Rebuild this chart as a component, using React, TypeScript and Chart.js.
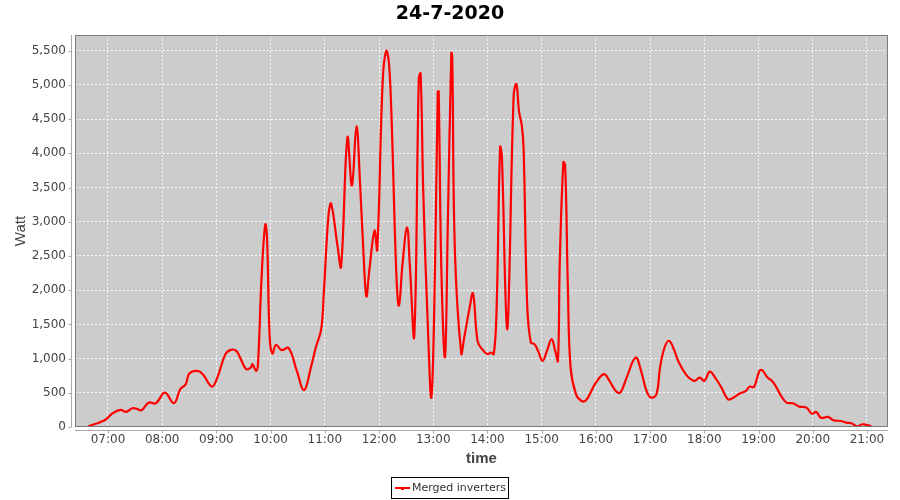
import { useEffect, useRef } from "react";
import { Chart, registerables } from "chart.js";

Chart.register(...registerables);

const TITLE = "24-7-2020";
const X_LABEL = "time";
const Y_LABEL = "Watt";
const SERIES_NAME = "Merged inverters";

const TIMES = [
  "06:38", "06:45", "06:50", "06:58", "07:05", "07:14", "07:20", "07:27", "07:32", "07:37",
  "07:45", "07:53", "08:03", "08:13", "08:20", "08:26", "08:30", "08:39", "08:45", "08:55",
  "09:01", "09:10", "09:16", "09:22", "09:27", "09:33", "09:38", "09:40", "09:44", "09:46",
  "09:50", "09:54", "09:56", "09:59", "10:02", "10:06", "10:12", "10:20", "10:29", "10:37",
  "10:45", "10:50", "10:56", "10:59", "11:04", "11:07", "11:14", "11:18", "11:25", "11:30",
  "11:35", "11:39", "11:43", "11:46", "11:49", "11:55", "11:58", "12:04", "12:08", "12:11",
  "12:14", "12:19", "12:22", "12:26", "12:31", "12:34", "12:39", "12:44", "12:46", "12:49",
  "12:54", "12:58", "13:02", "13:05", "13:06", "13:09", "13:13", "13:16", "13:20", "13:21",
  "13:24", "13:31", "13:34", "13:40", "13:44", "13:49", "13:54", "14:00", "14:04", "14:07",
  "14:10", "14:14", "14:16", "14:20", "14:22", "14:24", "14:29", "14:32", "14:35", "14:38",
  "14:40", "14:44", "14:48", "14:52", "14:56", "15:01", "15:06", "15:11", "15:15", "15:18",
  "15:20", "15:24", "15:26", "15:29", "15:32", "15:38", "15:44", "15:49", "15:55", "16:00",
  "16:09", "16:15", "16:22", "16:27", "16:34", "16:44", "16:50", "16:56", "17:01", "17:07",
  "17:11", "17:16", "17:21", "17:27", "17:31", "17:40", "17:49", "17:55", "18:00", "18:06",
  "18:12", "18:19", "18:26", "18:31", "18:39", "18:46", "18:50", "18:55", "19:01", "19:04",
  "19:10", "19:15", "19:20", "19:25", "19:31", "19:38", "19:45", "19:53", "19:59", "20:04",
  "20:09", "20:17", "20:23", "20:31", "20:37", "20:43", "20:49", "20:55", "21:00", "21:05",
];

const WATTS = [
  10, 40, 63, 113, 200, 250, 220, 274, 265, 245,
  356, 347, 502, 347, 552, 625, 781, 820, 772, 590,
  722, 1065, 1128, 1113, 992, 845, 869, 918, 820, 918,
  2187, 2959, 2773, 1308, 1074, 1201, 1124, 1153, 820, 538,
  894, 1162, 1431, 1992, 3091, 3263, 2651, 2344, 4230, 3531,
  4395, 3555, 2480, 1909, 2260, 2871, 2589, 5044, 5498, 5313,
  4458, 2285, 1773, 2383, 2920, 2383, 1333, 5094, 5167, 3409,
  1480, 439, 2383, 4897, 4908, 2285, 1025, 2871, 5469, 5410,
  2554, 1074, 1285, 1724, 1953, 1260, 1138, 1065, 1089, 1065,
  1675, 4092, 3946, 1894, 1431, 2114, 4850, 5011, 4606, 4410,
  4068, 1773, 1235, 1211, 1113, 967, 1120, 1285, 1113, 967,
  2383, 3872, 3824, 2041, 869, 479, 381, 391, 527, 649,
  772, 674, 527, 503, 722, 1015, 820, 527, 430, 479,
  869, 1162, 1260, 1113, 967, 762, 674, 722, 674, 810,
  722, 576, 406, 420, 488, 527, 590, 586, 820, 830,
  722, 674, 576, 454, 356, 347, 298, 283, 195, 220,
  136, 147, 98, 88, 63, 54, 10, 40, 29, 10,
];

const X_TICK_LABELS = [
  "07:00", "08:00", "09:00", "10:00", "11:00", "12:00", "13:00", "14:00",
  "15:00", "16:00", "17:00", "18:00", "19:00", "20:00", "21:00",
];
const Y_TICKS = [0, 500, 1000, 1500, 2000, 2500, 3000, 3500, 4000, 4500, 5000, 5500];
const X_MIN_MINUTES = 383.5;
const X_MAX_MINUTES = 1283.3;
const Y_MAX = 5730;

const toMinutes = (s: string) => {
  const [h, m] = s.split(":").map(Number);
  return h * 60 + m;
};
const fmtTime = (v: number) => {
  const h = Math.floor(v / 60);
  const m = Math.round(v - h * 60);
  return String(h).padStart(2, "0") + ":" + String(m).padStart(2, "0");
};

const TICK_FONT = "DejaVu Sans";

const framePlugin = {
  id: "jfreeFrame",
  beforeDraw(chart: any) {
    const { ctx, chartArea: a } = chart;
    ctx.save();
    ctx.fillStyle = "#cccccc";
    ctx.fillRect(a.left, a.top, a.right - a.left, a.bottom - a.top);
    ctx.restore();
  },
  afterDraw(chart: any) {
    const { ctx, chartArea: a, scales } = chart;
    const line = (x1: number, y1: number, x2: number, y2: number) => {
      ctx.beginPath();
      ctx.moveTo(x1, y1);
      ctx.lineTo(x2, y2);
      ctx.stroke();
    };
    ctx.save();
    ctx.lineWidth = 1;
    // plot outline
    ctx.strokeStyle = "#7a7a7a";
    ctx.strokeRect(Math.round(a.left) + 0.5, Math.round(a.top) + 0.5, Math.round(a.right - a.left) - 1, Math.round(a.bottom - a.top) - 1);
    // axis lines
    ctx.strokeStyle = "#a8a8a8";
    const ax = Math.round(a.left - 4) + 0.5;
    const ay = Math.round(a.bottom + 3) + 0.5;
    line(ax, a.top, ax, a.bottom);
    line(a.left, ay, a.right, ay);
    // tick marks
    scales.y.ticks.forEach((t: any) => {
      const py = Math.round(scales.y.getPixelForValue(t.value)) + 0.5;
      line(ax - 3, py, ax, py);
    });
    scales.x.ticks.forEach((t: any) => {
      const px = Math.round(scales.x.getPixelForValue(t.value)) + 0.5;
      line(px, ay, px, ay + 3);
    });
    // title
    ctx.fillStyle = "#000";
    ctx.textAlign = "center";
    ctx.textBaseline = "middle";
    ctx.font = "bold 19px 'DejaVu Sans'";
    ctx.fillText(TITLE, 450, 14);
    // axis titles
    ctx.fillStyle = "#444";
    ctx.font = "bold 15px 'Liberation Sans'";
    ctx.fillText(X_LABEL, (a.left + a.right) / 2, 459);
    ctx.save();
    ctx.translate(21, (a.top + a.bottom) / 2);
    ctx.rotate(-Math.PI / 2);
    ctx.font = "15px 'Liberation Sans'";
    ctx.fillText(Y_LABEL, 0, 0);
    ctx.restore();
    // legend
    ctx.strokeStyle = "#000";
    ctx.strokeRect(391.5, 477.5, 117, 21);
    ctx.strokeStyle = "#ff0000";
    ctx.lineWidth = 2;
    line(395, 488, 410, 488);
    ctx.fillStyle = "#ff0000";
    ctx.fillRect(401, 487, 3, 3);
    ctx.fillStyle = "#333";
    ctx.textAlign = "left";
    ctx.font = "11px '" + TICK_FONT + "'";
    ctx.fillText(SERIES_NAME, 412, 488);
    ctx.restore();
  },
};

export default function App() {
  const ref = useRef<HTMLCanvasElement | null>(null);
  useEffect(() => {
    document.body.style.margin = "0";
    const canvas = ref.current;
    if (!canvas) return;
    const points = TIMES.map((t, i) => ({ x: toMinutes(t), y: WATTS[i] }));
    const chart = new Chart(canvas, {
      type: "line",
      data: {
        datasets: [
          {
            label: SERIES_NAME,
            data: points,
            borderColor: "#ff0000",
            backgroundColor: "#ff0000",
            borderWidth: 2.2,
            pointRadius: 0,
            tension: 0.4,
            fill: false,
          },
        ],
      },
      options: {
        animation: false,
        responsive: false,
        maintainAspectRatio: false,
        layout: { padding: { left: 0, right: 12, top: 35, bottom: 0 } },
        plugins: {
          legend: { display: false },
          title: { display: false },
          tooltip: { enabled: false },
        },
        scales: {
          x: {
            type: "linear",
            min: X_MIN_MINUTES,
            max: X_MAX_MINUTES,
            afterFit: (s: any) => {
              s.height = 73;
            },
            afterBuildTicks: (s: any) => {
              s.ticks = X_TICK_LABELS.map((l) => ({ value: toMinutes(l) }));
            },
            ticks: {
              callback: (v: any) => fmtTime(Number(v)),
              color: "#444",
              font: { family: TICK_FONT, size: 12 },
              padding: 6,
              maxRotation: 0,
              autoSkip: false,
            },
            grid: {
              color: "rgba(255,255,255,0.85)",
              lineWidth: 1,
              drawTicks: false,
            },
            border: { display: false, dash: [2, 2] },
          },
          y: {
            type: "linear",
            min: 0,
            max: Y_MAX,
            afterFit: (s: any) => {
              s.width = 75;
            },
            afterBuildTicks: (s: any) => {
              s.ticks = Y_TICKS.map((v) => ({ value: v }));
            },
            ticks: {
              callback: (v: any) => Number(v).toLocaleString("en-US"),
              color: "#444",
              font: { family: TICK_FONT, size: 12 },
              padding: 9,
              autoSkip: false,
            },
            grid: {
              color: "rgba(255,255,255,0.85)",
              lineWidth: 1,
              drawTicks: false,
            },
            border: { display: false, dash: [2, 2] },
          },
        },
      },
      plugins: [framePlugin],
    } as any);
    return () => chart.destroy();
  }, []);
  return (
    <div style={{ width: 900, height: 500 }}>
      <canvas ref={ref} width={900} height={500} style={{ display: "block" }} />
    </div>
  );
}
